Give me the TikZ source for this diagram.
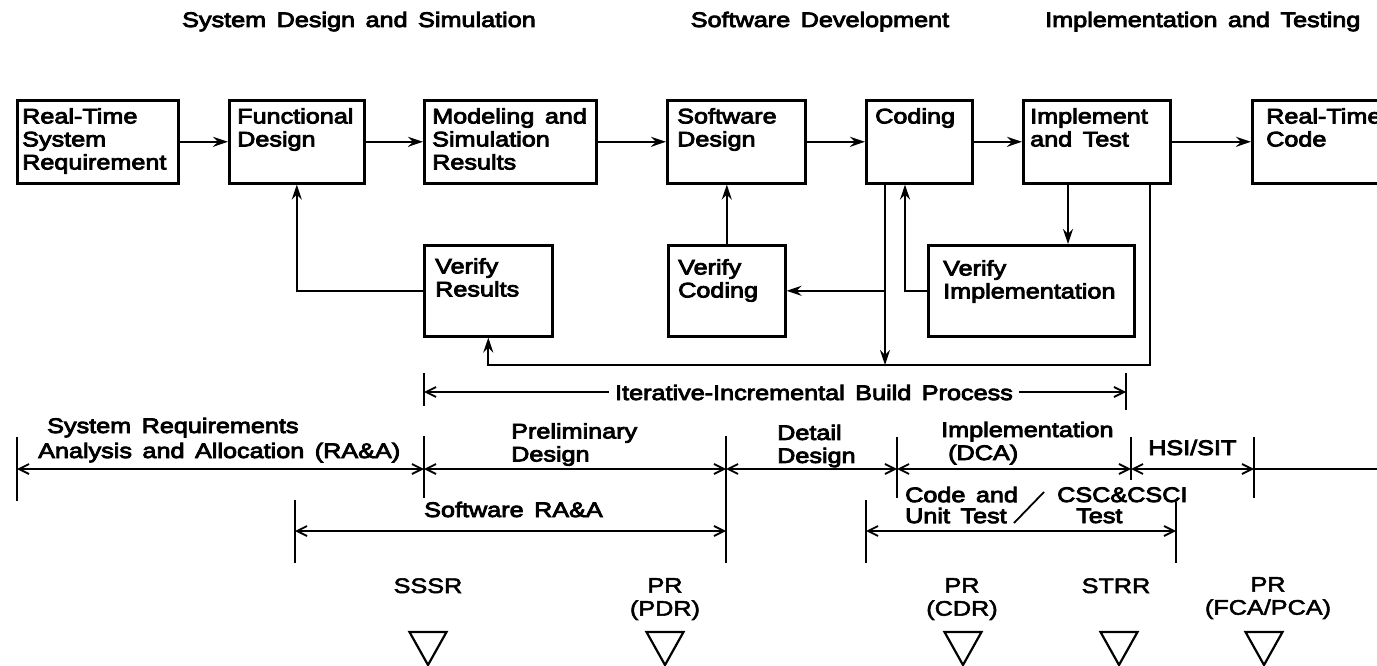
\documentclass[tikz,border=0pt]{standalone}
\usepackage{fontspec}
\newfontfamily\pf{Liberation Sans}[FakeStretch=1.2,FakeBold=4,WordSpace=1.5]
\newfontfamily\pfl{Liberation Sans}[FakeStretch=1.2,FakeBold=2.5,WordSpace=1.5]
\usetikzlibrary{arrows.meta,calc}
\begin{document}
\begin{tikzpicture}[x=1pt,y=-1pt,
  box/.style={draw, line width=2.6pt, anchor=north west, inner sep=0pt},
  txt/.style={anchor=north west, inner sep=0pt, align=left, font={\pf\fontsize{21}{23}\selectfont}},
  lab/.style={inner sep=0pt, align=left, font={\pf\fontsize{21}{23}\selectfont}},
  mst/.style={inner sep=0pt, align=center, font={\pfl\fontsize{21}{23}\selectfont}},
  flow/.style={line width=2.2pt, -{Stealth[length=15pt,width=10pt,inset=5pt]}},
  tick/.style={line width=2pt},
  tl/.style={line width=1.8pt, {Straight Barb[length=10pt,width=10pt]}-{Straight Barb[length=10pt,width=10pt]}},
  tlend/.style={line width=1.8pt, -{Straight Barb[length=10pt,width=10pt]}},
  tri/.style={line width=2.2pt, line join=miter}
]
\useasboundingbox (0,0) rectangle (1377,666);
\fill[white] (0,0) rectangle (1377,666);

% phase headings
\node[lab, anchor=base] (h1) at (359,27) {System Design and Simulation};
\node[lab, anchor=base] (h2) at (820,27) {Software Development};
\node[lab, anchor=base west] (h3) at (1045,27) {Implementation and Testing};

% process boxes
\node[box, minimum width=161, minimum height=83] (b1) at (16,99) {};
\node[box, minimum width=135, minimum height=83] (b2) at (228,99) {};
\node[box, minimum width=172, minimum height=83] (b3) at (423,99) {};
\node[box, minimum width=138, minimum height=83] (b4) at (666,99) {};
\node[box, minimum width=106, minimum height=83] (b5) at (865,99) {};
\node[box, minimum width=147, minimum height=83] (b6) at (1022,99) {};
\node[box, minimum width=200, minimum height=83] (b7) at (1251,99) {};
\node[box, minimum width=128, minimum height=91] (v1) at (423,244) {};
\node[box, minimum width=117, minimum height=91] (v2) at (667,244) {};
\node[box, minimum width=206, minimum height=91] (v3) at (927,244) {};

\node[txt] (b1t) at ($(b1.north west)+(6,9)$) {Real-Time\\System\\Requirement};
\node[txt] (b2t) at ($(b2.north west)+(9,9)$) {Functional\\Design};
\node[txt] (b3t) at ($(b3.north west)+(9,9)$) {Modeling and\\Simulation\\Results};
\node[txt] (b4t) at ($(b4.north west)+(11,9)$) {Software\\Design};
\node[txt] (b5t) at ($(b5.north west)+(10,9)$) {Coding};
\node[txt] (b6t) at ($(b6.north west)+(8,9)$) {Implement\\and Test};
\node[txt] (b7t) at ($(b7.north west)+(15,9)$) {Real-Time\\Code};
\node[txt] (v1t) at ($(v1.north west)+(12,14)$) {Verify\\Results};
\node[txt] (v2t) at ($(v2.north west)+(11,15)$) {Verify\\Coding};
\node[txt] (v3t) at ($(v3.north west)+(16,16)$) {Verify\\Implementation};

% forward flow
\draw[flow] (b1.east) -- (b2.west);
\draw[flow] (b2.east) -- (b3.west);
\draw[flow] (b3.east) -- (b4.west);
\draw[flow] (b4.east) -- (b5.west);
\draw[flow] (b5.east) -- (b6.west);
\draw[flow] (b6.east) -- (b7.west);

% verification loops
\coordinate (cd) at ($(b5.south west)+(20,0)$);
\coordinate (cu) at ($(b5.south west)+(40,0)$);
\coordinate (id) at ($(b6.south west)+(46,0)$);
\coordinate (ir) at ($(b6.south west)+(128,0)$);
\coordinate (lp) at (0,365);
\draw[flow] (v1.west) -| (b2.south);
\draw[flow] (v2.north) -- (v2.north |- b4.south);
\draw[flow] (cd) -- (cd |- lp);
\draw[flow] (cd |- v2.east) -- (v2.east);
\draw[flow] (v3.west) -| (cu);
\draw[flow] (id) -- (id |- v3.north);
\draw[flow] (ir) |- (v1.south |- lp) -- (v1.south);

% iterative-incremental build span
\draw[tick] (424,373) -- (424,406);
\draw[tick] (1126,373) -- (1126,410);
\coordinate (il) at (424,392);
\coordinate (irr) at (1126,392);
\node[lab, anchor=base, inner sep=6pt] (it) at (814,400) {Iterative-Incremental Build Process};
\draw[tlend] (it.west |- il) -- (il);
\draw[tlend] (it.east |- irr) -- (irr);

% main phase time line
\coordinate (m0) at (17,469);
\coordinate (m1) at (424,469);
\coordinate (m2) at (726,469);
\coordinate (m3) at (897,469);
\coordinate (m4) at (1131,469);
\coordinate (m5) at (1254,469);
\coordinate (me) at (1380,469);
\draw[tick] (17,437) -- (17,501);
\draw[tick] (424,436) -- (424,498);
\draw[tick] (726,436) -- (726,563);
\draw[tick] (897,437) -- (897,498);
\draw[tick] (1131,437) -- (1131,480);
\draw[tick] (1254,437) -- (1254,498);
\draw[tl] (m0) -- (m1);
\draw[tl] (m1) -- (m2);
\draw[tl] (m2) -- (m3);
\draw[tl] (m3) -- (m4);
\draw[tl] (m4) -- (m5);
\draw[line width=1.8pt] (m5) -- (me);

\node[lab, anchor=base west] (p1a) at (47,433) {System Requirements};
\node[lab, anchor=base west] (p1b) at (38,458) {Analysis and Allocation (RA\&A)};
\node[lab, anchor=north west] (p2) at (511,423) {Preliminary\\Design};
\node[lab, anchor=north west] (p3) at (777,424.5) {Detail\\Design};
\node[lab, anchor=base west] (p4a) at (941,437) {Implementation};
\node[lab, anchor=base west] (p4b) at (948,460) {(DCA)};
\node[lab, anchor=base west] (p5) at (1148,455) {HSI/SIT};

% software RA&A span
\coordinate (s0) at (295,531);
\coordinate (s1) at (726,531);
\draw[tick] (295,500) -- (295,563);
\draw[tl] (s0) -- (s1);
\node[lab, anchor=base west] (sw) at (424,517) {Software RA\&A};

% code / unit test and CSC & CSCI test span
\coordinate (c0) at (866,531);
\coordinate (c1) at (1176,531);
\draw[tick] (866,500) -- (866,563);
\draw[tick] (1176,502) -- (1176,563);
\draw[tl] (c0) -- (c1);
\node[lab, anchor=north west, font={\pf\fontsize{21}{21}\selectfont}] (cu1) at (905,486.7) {Code and\\Unit Test};
\node[lab, anchor=base west] (cs1) at (1057,502) {CSC\&CSCI};
\node[lab, anchor=base west] (cs2) at (1076,523) {Test};
\draw[line width=1.8pt] (1014,523) -- (1044,492);

% review milestones
\node[mst, anchor=base] (r1) at (428,593) {SSSR};
\node[mst, anchor=north] (r2) at (665,578) {PR\\(PDR)};
\node[mst, anchor=north] (r3) at (962,578) {PR\\(CDR)};
\node[mst, anchor=base] (r4) at (1116,593) {STRR};
\node[mst, anchor=north] (r5) at (1268,577) {PR\\(FCA/PCA)};
\foreach \cx/\nm in {428/t1, 665/t2, 963/t3, 1119/t4, 1264/t5} {
  \coordinate (\nm) at (\cx,632);
  \draw[tri] ($(\nm)+(-18.5,0)$) -- ($(\nm)+(18.5,0)$) -- ($(\nm)+(0,33)$) -- cycle;
}
\end{tikzpicture}
\end{document}
